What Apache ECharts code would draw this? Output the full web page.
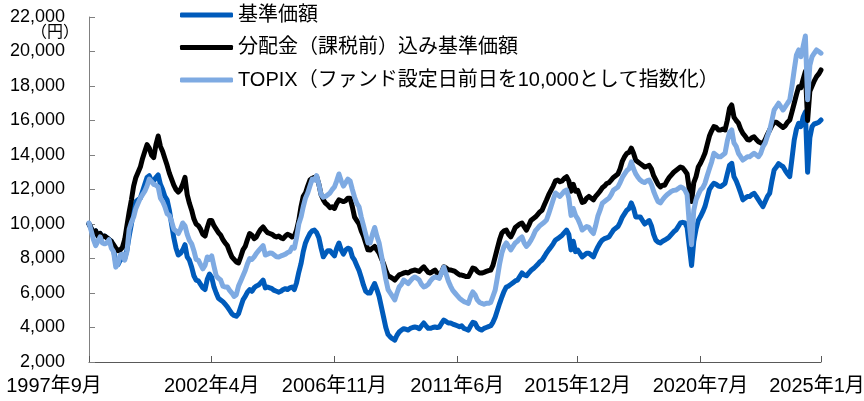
<!DOCTYPE html>
<html><head><meta charset="utf-8">
<script src="https://cdn.jsdelivr.net/npm/echarts@6/dist/echarts.min.js"></script>
<style>html,body{margin:0;padding:0;background:#fff}#c{width:864px;height:401px}</style>
</head><body><div id="c"></div>
<script>
// Monthly readings, starting 1997-09
const startYear = 1997, startMonth = 9;
const tickLabels = ['1997年9月','2002年4月','2006年11月','2011年6月','2015年12月','2020年7月','2025年1月'];
const seriesNames = ['基準価額','分配金（課税前）込み基準価額','TOPIX（ファンド設定日前日を10,000として指数化）'];
const navValues = [
10000,9750,9500,9600,9300,9450,9250,9300,9200,9100,
9000,8500,7800,7650,7900,8000,8000,8500,9300,10000,
10800,11300,11400,11500,11900,12300,12700,12800,12500,12500,
12700,12840,12300,12000,11600,11400,10800,10000,9200,8600,
8200,8300,8500,8800,8100,7900,7500,7000,6750,6700,
6500,6300,6200,6800,7100,6900,6350,6000,5700,5600,
5500,5350,5200,5000,4800,4700,4650,4800,5200,5600,
5800,6050,6200,6100,6300,6400,6460,6600,6750,6300,
6350,6300,6250,6150,6100,6050,6100,6200,6250,6200,
6300,6350,6200,6600,7200,7700,8400,8900,9200,9450,
9600,9650,9500,9200,8600,8100,8300,8450,8450,8300,
8150,8600,8900,8500,8250,8500,8600,8550,8100,7900,
7600,7300,6900,6450,6100,6000,6000,6300,6550,6200,
5800,5200,4600,4000,3600,3450,3350,3270,3550,3740,
3850,3930,3900,3850,3950,4000,4030,4000,3930,4100,
4260,4100,3950,3950,4000,4030,4000,4030,4250,4430,
4350,4260,4260,4200,4150,4100,4050,4100,3950,3900,
3850,4100,4300,4250,4000,3900,3850,3950,4000,4050,
4100,4300,4600,5000,5400,5770,6100,6350,6400,6500,
6600,6700,6750,6950,7160,7050,7000,7150,7300,7400,
7520,7650,7800,7910,8100,8320,8500,8670,8850,9070,
9150,9250,9350,9500,9650,9400,8500,9000,8400,8490,
8300,8090,8200,8300,8300,8200,8090,8400,8670,8900,
9070,9150,9200,9250,9450,9650,9750,9850,10100,10400,
10600,10800,10900,11220,10900,10410,10400,10410,10200,10000,
10100,10200,9900,9400,9070,8950,8900,9000,9070,9150,
9250,9400,9550,9650,9850,10060,10100,10060,9800,8700,
7600,9000,9700,10200,10430,10700,11010,11500,12000,12200,
12360,12300,12200,12170,12250,12360,12900,13400,13520,12750,
12500,12170,11800,11400,11500,11590,11590,11700,11780,11600,
11400,11200,11010,11300,11600,11780,12500,13130,13300,13500,
13400,13320,13100,12900,12750,13800,14870,15500,15840,15650,
16200,16500,13000,15000,15650,15800,15840,15900,16030
];
const navWithDistValues = [
10000,9750,9500,9600,9300,9450,9250,9300,9200,9100,
9000,8800,8600,8450,8500,8650,9100,9900,10700,11400,
12200,12700,13000,13300,13800,14200,14600,14400,14000,13850,
14600,15100,14500,14200,13800,13400,12950,12600,12250,12000,
11850,12000,12300,12700,11700,11200,10800,10300,10000,9900,
9700,9400,9300,9800,10200,10200,9900,9700,9500,9350,
9100,8900,8750,8400,8100,7950,7800,7740,8100,8500,
8700,9100,9450,9350,9150,9250,9500,9700,9830,9650,
9500,9450,9400,9300,9250,9300,9200,9150,9300,9400,
9350,9250,9300,9650,10200,11000,11600,11800,12200,12550,
12650,12700,12740,12300,11700,11400,11200,11100,10950,11000,
10900,11200,11400,11350,11300,11350,11500,11500,11000,10400,
10200,10000,9600,9300,8900,8500,8490,8600,8700,8500,
8320,8000,7700,7300,7000,6930,6850,6750,6900,7050,
7100,7160,7200,7160,7250,7300,7330,7300,7250,7400,
7520,7350,7200,7160,7250,7330,7150,6930,7200,7520,
7450,7350,7330,7300,7250,7150,7050,7040,7000,6950,
6950,7200,7450,7400,7250,7160,7160,7200,7250,7300,
7330,7600,8090,8600,9100,9480,9600,9650,9400,9250,
9500,9800,9900,10000,10060,9850,9650,9900,10200,10300,
10400,10550,10700,10800,11100,11390,11700,11950,12200,12500,
12550,12450,12500,12650,12740,12500,11900,12300,11900,11950,
11600,11250,11300,11500,11600,11500,11400,11600,11750,11900,
12100,12200,12350,12400,12550,12700,12800,12900,13200,13650,
13900,14100,14150,14400,14100,13700,13600,13500,13400,13300,
13350,13400,13200,12800,12550,12300,12150,12250,12250,12500,
12700,12850,13000,13100,13200,13300,13250,13100,12900,12000,
11300,12400,12750,13300,13520,13800,14100,14600,15100,15400,
15650,15600,15450,15450,15500,15450,16000,16700,16900,16200,
16000,15850,15500,15250,15100,14900,14870,15000,15060,14900,
14770,14700,14680,14900,15200,15450,15700,15900,15900,15800,
15700,15600,15700,15900,16030,16500,17000,17500,17960,17900,
18400,18850,16000,17700,18000,18300,18540,18700,18930
];
const topixValues = [
10060,9600,9100,8750,9000,9250,8900,8850,8900,9100,
8600,8400,7500,7700,8200,8250,7900,8400,9700,10100,
10400,10900,11200,11500,11700,11900,12200,12600,12450,12300,
12250,12150,11500,11300,11000,10600,10500,10150,9700,9600,
9450,9700,10060,9900,9400,9050,8850,8450,7950,7900,
7650,7400,7600,8090,7950,8150,7550,7000,6850,6750,
6400,6350,6350,6150,6000,5800,5900,6400,6700,7000,
7300,7700,8000,7950,8100,8300,8450,8600,8750,8200,
8250,8320,8300,8200,8100,8090,8150,8200,8250,8350,
8400,8650,8600,9200,10000,10400,11000,11500,11800,12200,
12600,12550,12800,12300,11700,11550,11600,11700,11800,12000,
12150,12500,12900,12500,12200,12400,12600,12500,12000,11550,
11200,11000,10400,9900,9400,8900,8900,9400,9800,9300,
8900,8200,7500,6800,6200,6000,5800,5600,6000,6350,
6500,6750,6650,6550,6700,6850,6930,6850,6750,6500,
6350,6400,6500,6700,6850,6930,6900,6850,7200,7500,
7100,6700,6400,6150,6000,5850,5700,5600,5500,5450,
5400,5800,6060,5900,5600,5450,5400,5350,5400,5400,
5450,5800,6170,6900,7700,8320,8700,8900,8700,8500,
8700,8900,9000,9150,9250,8900,8700,8850,9050,9300,
9600,9750,9900,10000,10100,10230,10600,11000,11400,11800,
11700,11600,11750,11900,11970,11500,10500,10900,10500,10300,
10000,9650,9750,9850,9800,9600,9450,9900,10450,10800,
11200,11300,11400,11500,11700,11970,12050,12150,12400,12700,
12900,13100,13200,13600,13200,12900,12700,12550,12450,12400,
12500,12550,12300,11900,11570,11300,11220,11400,11570,11700,
11800,11900,11950,11970,12050,12150,12100,11970,11700,10000,
8800,10800,11400,11700,11970,12100,12360,12800,13200,13600,
14100,14000,13900,13900,14000,14100,14800,15300,15450,14700,
14500,14100,13900,13710,13800,13900,13900,14000,14100,14000,
13900,14100,14480,14700,15100,15450,16000,16610,16800,17000,
16800,16610,16800,17000,17190,18000,18930,19800,20090,19700,
20300,20900,17200,19200,19700,19900,20090,20000,19900
];

const categories = [];
for (let i = 0; i < navValues.length; i++) {
  const t = startYear * 12 + (startMonth - 1) + i;
  categories.push(Math.floor(t / 12) + '年' + (t % 12 + 1) + '月');
}
const showTick = (idx, val) => tickLabels.indexOf(val) >= 0;
const firstLabel = tickLabels[0];
const lastLabel = tickLabels[tickLabels.length - 1];
const FONT = '"Liberation Sans","Noto Sans CJK JP",sans-serif';

const chart = echarts.init(document.getElementById('c'), null, {renderer: 'canvas'});
chart.setOption({
  animation: false,
  backgroundColor: '#fff',
  textStyle: {fontFamily: FONT},
  grid: {left: 89, right: 43, top: 17, bottom: 39, containLabel: false, outerBoundsMode: 'none'},
  legend: {
    orient: 'vertical', left: 180, top: 5, padding: 0,
    itemWidth: 53, itemHeight: 5, itemGap: 12.5, icon: 'roundRect',
    textStyle: {fontSize: 20, lineHeight: 20, color: '#000', fontFamily: FONT},
    data: seriesNames
  },
  xAxis: {
    type: 'category', data: categories, boundaryGap: false,
    axisLine: {lineStyle: {color: '#595959', width: 1}},
    axisTick: {inside: true, length: 6, interval: showTick, lineStyle: {color: '#595959'}},
    axisLabel: {interval: showTick, fontSize: 20, color: '#000', margin: 14, fontFamily: FONT,
      formatter: v => v === lastLabel ? '{last|' + v + '}' : (v === firstLabel ? '{first|' + v + '}' : v),
      rich: {
        last: {fontSize: 20, color: '#000', fontFamily: FONT, padding: [0, 8, 0, 0]},
        first: {fontSize: 20, color: '#000', fontFamily: FONT, padding: [0, 70, 0, 0]}
      }},
    splitLine: {show: false}
  },
  yAxis: {
    type: 'value', min: 2000, max: 22000, interval: 2000,
    axisLine: {show: true, lineStyle: {color: '#808080', width: 1}},
    axisTick: {show: true, inside: true, length: 6, lineStyle: {color: '#808080'}},
    axisLabel: {fontSize: 18, color: '#000', margin: 24, fontFamily: FONT,
      formatter: v => v.toLocaleString('en-US')},
    splitLine: {show: false}
  },
  graphic: [{
    type: 'text', left: 31, top: 25,
    style: {text: '（円）', fontSize: 16, fill: '#000', fontFamily: FONT}
  }],
  series: [
    {name: seriesNames[0], type: 'line', data: navValues, showSymbol: false, color: '#005BBB',
     lineStyle: {width: 5, color: '#005BBB', join: 'round', cap: 'round'}},
    {name: seriesNames[1], type: 'line', data: navWithDistValues, showSymbol: false, color: '#000000',
     lineStyle: {width: 5, color: '#000000', join: 'round', cap: 'round'}},
    {name: seriesNames[2], type: 'line', data: topixValues, showSymbol: false, color: '#7EAAE2',
     lineStyle: {width: 5, color: '#7EAAE2', join: 'round', cap: 'round'}}
  ]
});
</script>
</body></html>
